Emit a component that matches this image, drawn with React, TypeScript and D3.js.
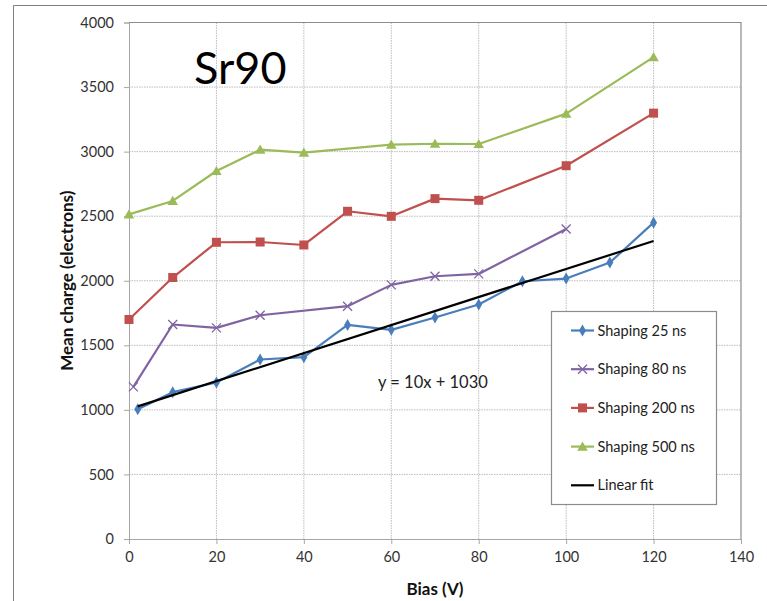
import { useEffect, useRef } from 'react'
import * as d3 from 'd3'

// Bias (V) and mean charge (electrons) for each shaping time
const shaping25 = [
  [2, 1005], [10, 1137], [20, 1212], [30, 1390], [40, 1408], [50, 1658], [60, 1620],
  [70, 1715], [80, 1816], [90, 1996], [100, 2017], [110, 2141], [120, 2450],
]
const shaping80 = [
  [1, 1178], [10, 1661], [20, 1635], [30, 1733], [50, 1803], [60, 1968], [70, 2035],
  [80, 2053], [100, 2401],
]
const shaping200 = [
  [0, 1700], [10, 2025], [20, 2298], [30, 2300], [40, 2277], [50, 2538], [60, 2499],
  [70, 2636], [80, 2623], [100, 2891], [120, 3298],
]
const shaping500 = [
  [0, 2514], [10, 2618], [20, 2850], [30, 3015], [40, 2992], [60, 3054], [70, 3061],
  [80, 3059], [100, 3294], [120, 3732],
]
const linearFit = [[2, 1027], [120, 2308]]

const xTicks = [0, 20, 40, 60, 80, 100, 120, 140]
const yTicks = [0, 500, 1000, 1500, 2000, 2500, 3000, 3500, 4000]

const series = [
  { label: 'Shaping 25 ns', data: shaping25, color: '#4a7ebb', marker: 'diamond' },
  { label: 'Shaping 80 ns', data: shaping80, color: '#8064a2', marker: 'x' },
  { label: 'Shaping 200 ns', data: shaping200, color: '#c0504d', marker: 'square' },
  { label: 'Shaping 500 ns', data: shaping500, color: '#9bbb59', marker: 'triangle' },
  { label: 'Linear fit', data: linearFit, color: '#000000', marker: 'none' },
]

const FONT = 'Lato, "Open Sans", sans-serif'

function drawMarker(g: any, kind: string, cx: number, cy: number, color: string) {
  if (kind === 'diamond') {
    g.append('path')
      .attr('d', d3.symbol(d3.symbolDiamond, 42)())
      .attr('transform', `translate(${cx},${cy})`)
      .attr('fill', color)
  } else if (kind === 'square') {
    g.append('rect')
      .attr('x', cx - 4.5).attr('y', cy - 4.5)
      .attr('width', 9).attr('height', 9)
      .attr('fill', color)
  } else if (kind === 'triangle') {
    g.append('path')
      .attr('d', d3.symbol(d3.symbolTriangle, 48)())
      .attr('transform', `translate(${cx},${cy + 1})`)
      .attr('fill', color)
  } else if (kind === 'x') {
    g.append('path')
      .attr('d', `M${cx - 4.5},${cy - 4.5}L${cx + 4.5},${cy + 4.5}M${cx - 4.5},${cy + 4.5}L${cx + 4.5},${cy - 4.5}`)
      .attr('stroke', color)
      .attr('stroke-width', 1.3)
      .attr('fill', 'none')
  }
}

export default function App() {
  const ref = useRef<SVGSVGElement>(null)

  useEffect(() => {
    if (!ref.current) return
    const width = 767, height = 601
    const margin = { top: 22.5, right: 26, bottom: 62, left: 129 }

    const svg = d3.select(ref.current)
    svg.selectAll('*').remove()

    svg.append('rect').attr('width', width).attr('height', height).attr('fill', '#fff')
    // outer chart frame
    svg.append('path')
      .attr('d', `M13.5,${height}V5.5H${width}`)
      .attr('fill', 'none').attr('stroke', '#7f7f7f').attr('stroke-width', 1)

    const x = d3.scaleLinear().domain([0, 140]).range([margin.left, width - margin.right])
    const y = d3.scaleLinear().domain([0, 4000]).range([height - margin.bottom, margin.top])

    const grid = svg.append('g')
    grid.selectAll('line.v').data(xTicks.slice(1, -1)).join('line')
      .attr('x1', d => x(d)).attr('x2', d => x(d))
      .attr('y1', y(0)).attr('y2', y(4000))
      .attr('stroke', '#bdbdbd').attr('stroke-dasharray', '1.5,1')
    grid.selectAll('line.h').data(yTicks.slice(1, -1)).join('line')
      .attr('y1', d => y(d)).attr('y2', d => y(d))
      .attr('x1', x(0)).attr('x2', x(140))
      .attr('stroke', '#bdbdbd').attr('stroke-dasharray', '1.5,1')

    // plot border top/right
    svg.append('path')
      .attr('d', `M${x(0)},${y(4000)}H${x(140)}V${y(0)}`)
      .attr('fill', 'none').attr('stroke', '#8c8c8c').attr('stroke-width', 1.2)

    const yAxis = svg.append('g')
      .attr('transform', `translate(${x(0)},0)`)
      .call(d3.axisLeft(y).tickValues(yTicks).tickSize(5).tickPadding(10).tickFormat(d3.format('d')))
    yAxis.select('.domain').attr('stroke', '#a6a6a6')
    yAxis.selectAll('line').attr('stroke', '#a6a6a6')
    yAxis.selectAll('text').attr('font-family', FONT).attr('font-size', 14.5).attr('fill', '#333')

    const xAxis = svg.append('g')
      .attr('transform', `translate(0,${y(0)})`)
      .call(d3.axisBottom(x).tickValues(xTicks).tickSize(5).tickPadding(8))
    xAxis.select('.domain').attr('stroke', '#a6a6a6')
    xAxis.selectAll('line').attr('stroke', '#a6a6a6')
    xAxis.selectAll('text').attr('font-family', FONT).attr('font-size', 14.5).attr('fill', '#333')

    const line = d3.line<number[]>().x(d => x(d[0])).y(d => y(d[1]))

    series.forEach(s => {
      svg.append('path')
        .datum(s.data)
        .attr('fill', 'none')
        .attr('stroke', s.color)
        .attr('stroke-width', 2.2)
        .attr('stroke-linejoin', 'round')
        .attr('d', line)
      const mg = svg.append('g')
      s.data.forEach(d => drawMarker(mg, s.marker, x(d[0]), y(d[1]), s.color))
    })

    // legend
    const lg = svg.append('g')
    lg.append('rect')
      .attr('x', 551.5).attr('y', 311.5).attr('width', 165).attr('height', 193)
      .attr('fill', '#fff').attr('stroke', '#8c8c8c').attr('stroke-width', 1.2)
    series.forEach((s, i) => {
      const cy = 330.5 + i * 38.7
      lg.append('line')
        .attr('x1', 571).attr('x2', 594).attr('y1', cy).attr('y2', cy)
        .attr('stroke', s.color).attr('stroke-width', 2.2)
      drawMarker(lg, s.marker, 582.5, cy, s.color)
      lg.append('text')
        .attr('x', 597.5).attr('y', cy).attr('dy', '0.35em')
        .attr('font-family', FONT).attr('font-size', 14.5).attr('fill', '#222')
        .text(s.label)
    })

    svg.append('text')
      .attr('x', 378).attr('y', 388)
      .attr('font-family', FONT).attr('font-size', 16.5).attr('fill', '#222')
      .text('y = 10x + 1030')

    svg.append('text')
      .attr('x', 194).attr('y', 84)
      .attr('font-family', FONT).attr('font-size', 45).attr('fill', '#000')
      .text('Sr90')

    svg.append('text')
      .attr('x', (x(0) + x(140)) / 2).attr('y', 595)
      .attr('text-anchor', 'middle')
      .attr('font-family', FONT).attr('font-size', 17).attr('font-weight', 'bold').attr('fill', '#111')
      .text('Bias (V)')

    svg.append('text')
      .attr('transform', `translate(73,${(y(0) + y(4000)) / 2}) rotate(-90)`)
      .attr('text-anchor', 'middle')
      .attr('font-family', FONT).attr('font-size', 17).attr('font-weight', 'bold').attr('fill', '#111')
      .text('Mean charge (electrons)')
  }, [])

  return (
    <svg ref={ref} width={767} height={601}
      style={{ position: 'absolute', left: 0, top: 0, display: 'block' }} />
  )
}
